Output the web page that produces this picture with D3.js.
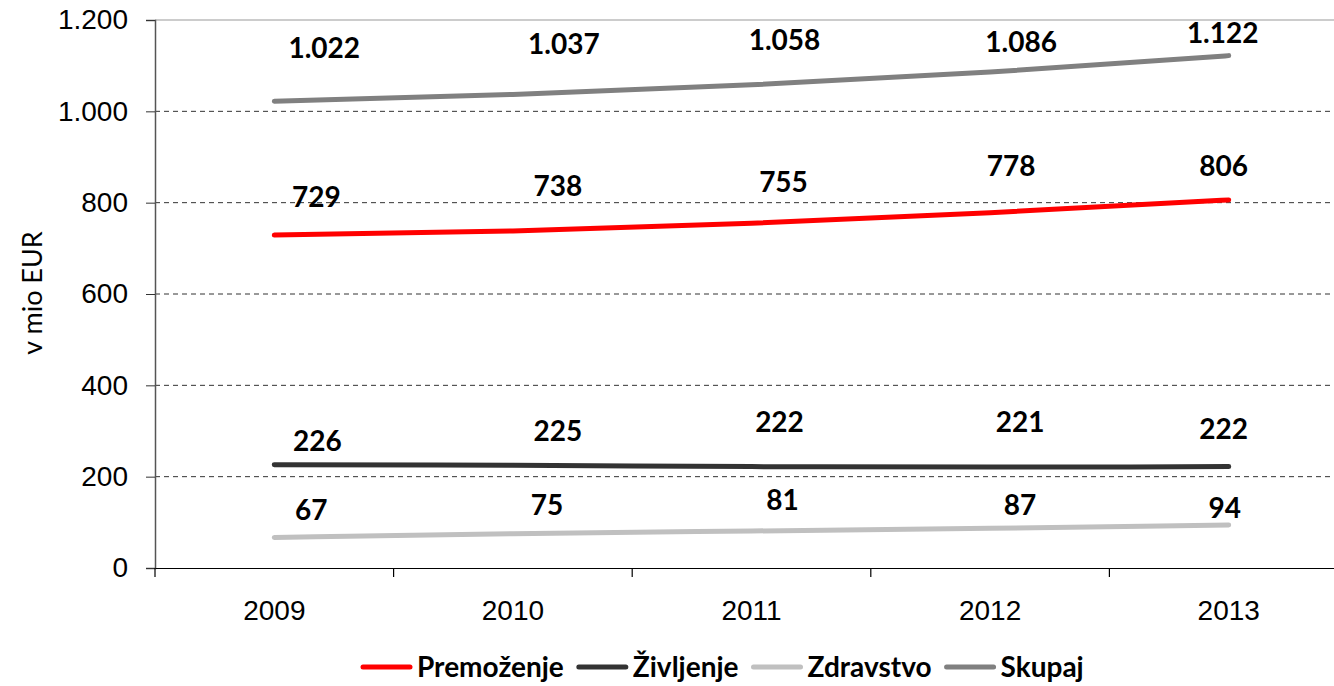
<!DOCTYPE html>
<html>
<head>
<meta charset="utf-8">
<script src="https://cdn.jsdelivr.net/npm/d3@7/dist/d3.min.js"></script>
<style>
  body { margin: 0; background: #fff; }
  svg { display: block; font-family: Lato, "Open Sans", sans-serif; }
</style>
</head>
<body>
<svg width="1334" height="686"></svg>
<script>
const years = ["2009", "2010", "2011", "2012", "2013"];
const premozenje = [729, 738, 755, 778, 806];
const zivljenje = [226, 225, 222, 221, 222];
const zdravstvo = [67, 75, 81, 87, 94];
const skupaj = [1022, 1037, 1058, 1086, 1122];
const yTicks = [0, 200, 400, 600, 800, 1000, 1200];

// label nudges (dx, dy from the point), like the manual placement in the original
const labelNudge = {
    Premoženje: [[42, -28], [45, -35], [32, -31], [21, -37], [-5, -24]],
    Življenje: [[43, -14], [45, -24], [28, -35], [30, -35], [-5, -28]],
    Zdravstvo: [[37, -17], [34, -19], [31, -21], [30, -13], [-4, -7]],
    Skupaj: [[50, -43], [51, -40], [33, -35], [31, -20], [-6, -13]]
};

const series = [
    {name: "Premoženje", values: premozenje, color: "#ff0000"},
    {name: "Življenje", values: zivljenje, color: "#333333"},
    {name: "Zdravstvo", values: zdravstvo, color: "#c0c0c0"},
    {name: "Skupaj", values: skupaj, color: "#808080"}
];

const svg = d3.select("svg"),
    width = +svg.attr("width");

const x = d3.scaleBand().domain(years).range([155, 1348]);
const y = d3.scaleLinear().domain([0, 1200]).range([568, 20]);
const fmt = d3.formatLocale({decimal: ",", thousands: ".", grouping: [3], currency: ["", ""]}).format(",");

// gridlines
svg.append("g").selectAll("line")
    .data(yTicks.filter(d => d > 0 && d < 1200))
    .join("line")
    .attr("x1", 155).attr("x2", width)
    .attr("y1", d => y(d)).attr("y2", d => y(d))
    .attr("stroke", "#333").attr("stroke-width", 1)
    .attr("stroke-dasharray", "5,4");

// top border
svg.append("line")
    .attr("x1", 155).attr("x2", width)
    .attr("y1", y(1200)).attr("y2", y(1200))
    .attr("stroke", "#999").attr("stroke-width", 1.2);

// y axis
const yAxis = svg.append("g")
    .attr("transform", "translate(155,0)")
    .call(d3.axisLeft(y).tickValues(yTicks).tickFormat(fmt).tickSize(9).tickPadding(18));
yAxis.select(".domain").attr("stroke", "#555").attr("stroke-width", 1.5);
yAxis.selectAll(".tick line").attr("stroke", "#333");
yAxis.selectAll("text").attr("font-size", 28).attr("fill", "#000");

// x axis
const xAxis = svg.append("g")
    .attr("transform", `translate(0,${y(0)})`)
    .call(d3.axisBottom(x).tickSize(0).tickPadding(32));
xAxis.select(".domain").attr("stroke", "#000").attr("stroke-width", 1.2);
xAxis.selectAll("text").attr("font-size", 28).attr("fill", "#000");
svg.append("g").selectAll("line")
    .data(years)
    .join("line")
    .attr("x1", d => x(d)).attr("x2", d => x(d))
    .attr("y1", y(0)).attr("y2", y(0) + 9)
    .attr("stroke", "#000").attr("stroke-width", 1.2);

// y title
svg.append("text")
    .attr("transform", "translate(42,293) rotate(-90)")
    .attr("text-anchor", "middle")
    .attr("font-size", 27)
    .text("v mio EUR");

const cx = d => x(d) + x.bandwidth() / 2;
const line = d3.line()
    .x((d, i) => cx(years[i]))
    .y(d => y(d))
    .curve(d3.curveMonotoneX);

const g = svg.append("g");
series.forEach(s => {
    g.append("path")
        .datum(s.values)
        .attr("d", line)
        .attr("fill", "none")
        .attr("stroke", s.color)
        .attr("stroke-width", 5)
        .attr("stroke-linecap", "round");
});

series.forEach(s => {
    g.append("g").selectAll("text")
        .data(s.values)
        .join("text")
        .attr("x", (d, i) => cx(years[i]) + labelNudge[s.name][i][0])
        .attr("y", (d, i) => y(d) + labelNudge[s.name][i][1])
        .attr("text-anchor", "middle")
        .attr("font-size", 28)
        .attr("font-weight", "bold")
        .text(d => fmt(d));
});

// legend
const legend = svg.append("g").attr("transform", "translate(363,667)");
let lx = 0;
series.forEach(s => {
    legend.append("line")
        .attr("x1", lx).attr("x2", lx + 47)
        .attr("stroke", s.color).attr("stroke-width", 5)
        .attr("stroke-linecap", "round");
    const t = legend.append("text")
        .attr("x", lx + 54)
        .attr("dy", "0.35em")
        .attr("font-size", 28)
        .attr("font-weight", "bold")
        .text(s.name);
    lx += 54 + t.node().getComputedTextLength() + 15;
});
</script>
</body>
</html>
